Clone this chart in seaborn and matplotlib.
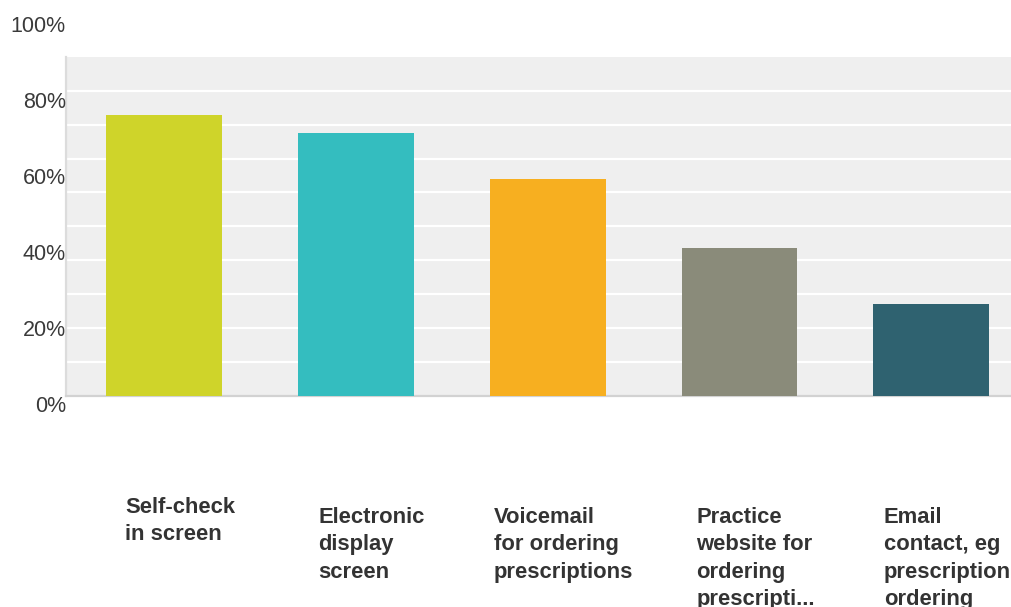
import matplotlib
matplotlib.use("Agg")
import matplotlib.pyplot as plt
import matplotlib.transforms as mtransforms
import seaborn as sns
import pandas as pd

# Survey answers and share of respondents (%)
categories = [
    "Self-check\nin screen",
    "Electronic\ndisplay\nscreen",
    "Voicemail\nfor ordering\nprescriptions",
    "Practice\nwebsite for\nordering\nprescripti...",
    "Email\ncontact, eg\nprescription\nordering",
]
percent = [83.0, 77.5, 64.0, 43.5, 27.0]
tick_values = [0, 20, 40, 60, 80, 100]
tick_labels = ["0%", "20%", "40%", "60%", "80%", "100%"]

colors = ["#CFD42A", "#34BDBF", "#F7AF20", "#8A8B7A", "#2F6270"]

sns.set_theme(style="white")
plt.rcParams["font.family"] = ["Liberation Sans", "DejaVu Sans"]

W, H = 1012, 607
fig = plt.figure(figsize=(W / 100, H / 100), dpi=100)

# plotting area in pixel terms
left_px, right_px, top_px, bottom_px = 66, 1012, 57, 395.5
ax = fig.add_axes([left_px / W, 1 - bottom_px / H,
                   (right_px - left_px) / W, (bottom_px - top_px) / H])

df = pd.DataFrame({"answer": categories, "pct": percent})
sns.barplot(data=df, x="answer", y="pct", hue="answer", palette=colors,
            width=0.604, legend=False, ax=ax, saturation=1, zorder=3,
            linewidth=0, edgecolor="none")

ax.set_facecolor("#EFEFEF")
ax.set_ylim(0, 100)
ax.set_xlim(-0.51, 4.42)
ax.set_yticks(range(10, 100, 10))
ax.yaxis.grid(True, color="white", linewidth=1.6)
ax.set_axisbelow(True)
ax.tick_params(left=False, bottom=False, labelleft=False, labelbottom=False)
ax.set_xlabel("")
ax.set_ylabel("")
for side in ["top", "right"]:
    ax.spines[side].set_visible(False)
ax.spines["left"].set_color("#DCDCDC")
ax.spines["left"].set_linewidth(1.6)
ax.spines["bottom"].set_color("#D2D2D2")
ax.spines["bottom"].set_linewidth(1.6)

# percentage scale labels sit on their own strip to the left
lab_top, lab_bot = 24, 404
lax = fig.add_axes([0, 1 - lab_bot / H, 66 / W, (lab_bot - lab_top) / H])
lax.set_ylim(0, 100)
lax.set_yticks(tick_values)
lax.set_yticklabels(tick_labels)
lax.yaxis.tick_right()
lax.tick_params(axis="y", right=False, length=0, pad=0, labelsize=15.5,
                labelcolor="#3A3A3A", labelright=True, labelleft=False)
for lbl in lax.get_yticklabels():
    lbl.set_horizontalalignment("right")
lax.set_xticks([])
lax.patch.set_alpha(0)
for s in lax.spines.values():
    s.set_visible(False)

# category names below the plotting area
label_tops = [497, 507, 507, 507, 507]
shift = mtransforms.ScaledTranslation(16 / 100, 0, fig.dpi_scale_trans)
for i, (name, ytop) in enumerate(zip(categories, label_tops)):
    trans = mtransforms.blended_transform_factory(ax.transData, fig.transFigure)
    ax.text(i, 1 - ytop / H, name, transform=trans + shift,
            ha="center", va="top", multialignment="left",
            fontsize=15.8, fontweight="bold", color="#333333",
            linespacing=1.4, clip_on=False)

fig.savefig("out.png", dpi=100)
